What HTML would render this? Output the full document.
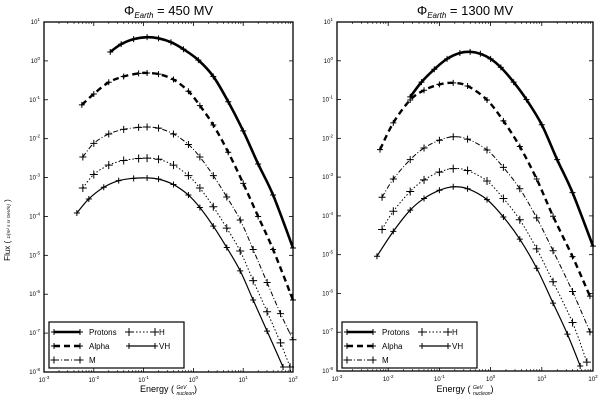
<!DOCTYPE html>
<html><head><meta charset="utf-8">
<style>
body{margin:0;background:#fff;width:600px;height:401px;overflow:hidden;font-family:"Liberation Sans",sans-serif}
svg{display:block}
text{font-family:"Liberation Sans",sans-serif;fill:#000}
</style></head>
<body>
<svg id="chart" width="600" height="401" viewBox="0 0 600 401"></svg>
<script>
// Data in log10 units (energy GeV/nucleon, flux)
const seriesNames = ["Protons","Alpha","M","H","VH"];
const leftProtonsE = [-1.67,-1.45,-1.2,-0.93,-0.7,-0.45,-0.2,0.1,0.4,0.7,1.0,1.3,1.6,2.0];
const leftProtonsF = [0.23,0.43,0.56,0.61,0.58,0.48,0.30,0.02,-0.40,-1.05,-1.80,-2.65,-3.45,-4.81];
const leftAlphaE = [-2.24,-2.0,-1.7,-1.4,-1.1,-0.93,-0.7,-0.4,-0.1,0.13,0.4,0.7,1.0,1.3,1.6,2.0];
const leftAlphaF = [-1.13,-0.85,-0.55,-0.40,-0.32,-0.31,-0.34,-0.48,-0.78,-1.15,-1.65,-2.35,-3.15,-4.0,-4.85,-6.15];
const leftME = [-2.22,-2.0,-1.7,-1.4,-1.1,-0.93,-0.7,-0.4,-0.1,0.13,0.4,0.67,0.94,1.2,1.48,1.75,2.0];
const leftMF = [-2.47,-2.12,-1.88,-1.76,-1.71,-1.70,-1.73,-1.88,-2.15,-2.47,-2.95,-3.50,-4.09,-4.85,-5.70,-6.50,-7.17];
const leftHE = [-2.22,-2.0,-1.7,-1.4,-1.1,-0.93,-0.7,-0.4,-0.1,0.13,0.4,0.67,0.94,1.2,1.48,1.75,1.94];
const leftHF = [-3.27,-2.92,-2.68,-2.56,-2.51,-2.50,-2.53,-2.68,-2.95,-3.27,-3.75,-4.30,-4.89,-5.65,-6.45,-7.25,-7.87];
const leftVHE = [-2.34,-2.1,-1.8,-1.5,-1.2,-0.93,-0.7,-0.4,-0.1,0.13,0.4,0.67,0.94,1.2,1.48,1.80];
const leftVHF = [-3.91,-3.55,-3.25,-3.08,-3.02,-3.01,-3.04,-3.18,-3.45,-3.77,-4.25,-4.80,-5.40,-6.15,-6.95,-7.87];
const rightProtonsE = [-1.57,-1.35,-1.1,-0.85,-0.6,-0.4,-0.2,0,0.2,0.45,0.7,1.0,1.3,1.6,2.0];
const rightProtonsF = [-0.93,-0.55,-0.22,0.05,0.20,0.23,0.18,0.05,-0.17,-0.55,-1.00,-1.65,-2.55,-3.40,-4.78];
const rightAlphaE = [-2.16,-1.9,-1.57,-1.3,-1.0,-0.73,-0.45,-0.07,0.25,0.57,0.9,1.22,1.6,1.94];
const rightAlphaF = [-2.29,-1.60,-1.01,-0.76,-0.61,-0.57,-0.65,-1.01,-1.55,-2.21,-3.05,-4.01,-5.05,-6.07];
const rightME = [-2.12,-1.9,-1.57,-1.3,-1.0,-0.73,-0.45,-0.07,0.25,0.57,0.9,1.22,1.6,1.94];
const rightMF = [-3.52,-3.05,-2.55,-2.25,-2.05,-1.96,-2.02,-2.30,-2.75,-3.30,-4.05,-4.90,-5.95,-6.99];
const rightHE = [-2.12,-1.9,-1.57,-1.3,-1.0,-0.73,-0.45,-0.07,0.25,0.57,0.9,1.22,1.6,1.88];
const rightHF = [-4.35,-3.88,-3.37,-3.07,-2.87,-2.78,-2.83,-3.10,-3.55,-4.10,-4.85,-5.70,-6.75,-7.77];
const rightVHE = [-2.22,-1.9,-1.57,-1.3,-1.0,-0.73,-0.45,-0.07,0.25,0.57,0.9,1.22,1.5,1.75];
const rightVHF = [-5.04,-4.40,-3.85,-3.55,-3.34,-3.25,-3.30,-3.58,-4.03,-4.60,-5.35,-6.25,-7.05,-7.87];
const xTickExps = [-3,-2,-1,0,1,2];
const yTickExps = [1,0,-1,-2,-3,-4,-5,-6,-7,-8];
const titles = ["450 MV","1300 MV"];

const NS="http://www.w3.org/2000/svg";
const svg=document.getElementById('chart');
function mk(tag,attrs,parent){const e=document.createElementNS(NS,tag);for(const k in attrs)e.setAttribute(k,attrs[k]);(parent||svg).appendChild(e);return e;}

const panels=[
 {x0:44,x1:293,y0:22,y1:372,title:titles[0],series:[[leftProtonsE,leftProtonsF],[leftAlphaE,leftAlphaF],[leftME,leftMF],[leftHE,leftHF],[leftVHE,leftVHF]],name:'left'},
 {x0:337,x1:593,y0:22,y1:371,title:titles[1],series:[[rightProtonsE,rightProtonsF],[rightAlphaE,rightAlphaF],[rightME,rightMF],[rightHE,rightHF],[rightVHE,rightVHF]],name:'right'}
];
const styles=[
 {w:2.6,dash:"",ms:3},
 {w:2.4,dash:"6,4",ms:3},
 {w:1,dash:"5,2,1,2",ms:3.5},
 {w:1,dash:"1.5,2",ms:4},
 {w:1.2,dash:"",ms:3}
];
function path(pts){
 let d=`M${pts[0][0]},${pts[0][1]}`;
 for(let i=0;i<pts.length-1;i++){
  const p0=pts[Math.max(0,i-1)],p1=pts[i],p2=pts[i+1],p3=pts[Math.min(pts.length-1,i+2)];
  const c1=[p1[0]+(p2[0]-p0[0])/6,p1[1]+(p2[1]-p0[1])/6];
  const c2=[p2[0]-(p3[0]-p1[0])/6,p2[1]-(p3[1]-p1[1])/6];
  d+=` C${c1[0]},${c1[1]} ${c2[0]},${c2[1]} ${p2[0]},${p2[1]}`;
 }
 return d;
}
panels.forEach(p=>{
 const xs=v=>p.x0+(v-xTickExps[0])/(xTickExps[xTickExps.length-1]-xTickExps[0])*(p.x1-p.x0);
 const ys=v=>p.y0+(yTickExps[0]-v)/(yTickExps[0]-yTickExps[yTickExps.length-1])*(p.y1-p.y0);
 const g=mk('g',{});
 
 
 const t=mk('text',{x:(p.x0+p.x1)/2,y:15,'text-anchor':'middle','font-size':'13','font-family':'Liberation Serif'},g);
 
 
 t.innerHTML='Φ<tspan font-size="8" dy="3" font-style="italic">Earth</tspan><tspan dy="-3"> = '+p.title.split(' ')[0]+' </tspan><tspan font-family="Liberation Sans">MV</tspan>';
 xTickExps.forEach(e=>{
  const x=xs(e);
  mk('line',{x1:x,x2:x,y1:p.y1,y2:p.y1-4,stroke:'#000','stroke-width':0.8},g);
  mk('line',{x1:x,x2:x,y1:p.y0,y2:p.y0+4,stroke:'#000','stroke-width':0.8},g);
  for(let k=2;k<10&&e<xTickExps[xTickExps.length-1];k++){const xm=xs(e+Math.log10(k));
   mk('line',{x1:xm,x2:xm,y1:p.y1,y2:p.y1-2,stroke:'#000','stroke-width':0.6},g);
   mk('line',{x1:xm,x2:xm,y1:p.y0,y2:p.y0+2,stroke:'#000','stroke-width':0.6},g);}
  const tl=mk('text',{x:x,y:p.y1+10,'text-anchor':'middle','font-size':'6',fill:'#333'},g);
  
  
  tl.innerHTML='10<tspan dy="-3" font-size="4.5">'+e+'</tspan>';
 });
 yTickExps.forEach(e=>{
  const y=ys(e);
  mk('line',{x1:p.x0,x2:p.x0+4,y1:y,y2:y,stroke:'#000','stroke-width':0.8},g);
  mk('line',{x1:p.x1,x2:p.x1-4,y1:y,y2:y,stroke:'#000','stroke-width':0.8},g);
  const tl=mk('text',{x:p.x0-4,y:y+2,'text-anchor':'end','font-size':'6',fill:'#333'},g);
  
  
  tl.innerHTML='10<tspan dy="-3" font-size="4.5">'+e+'</tspan>';
 });
 const fr=mk('rect',{x:p.x0,y:p.y0,width:p.x1-p.x0,height:p.y1-p.y0,fill:'none',stroke:'#000','stroke-width':1.3},g);
 
 
 const xl=mk('text',{x:(p.x0+p.x1)/2,y:392,'text-anchor':'middle','font-size':'9'},g);
 
 
 xl.innerHTML='Energy ( <tspan font-size="5" font-style="italic" dy="-3">GeV</tspan><tspan font-size="5" font-style="italic" dx="-10" dy="6">nucleon</tspan><tspan dy="-3">)</tspan>';
 p.series.forEach((s,i)=>{
  const pts=s[0].map((v,j)=>[xs(v),ys(s[1][j])]);
  const st=styles[i];
  const ln=mk('path',{d:path(pts),fill:'none',stroke:'#000','stroke-width':st.w,'stroke-dasharray':st.dash},g);
  
  
  pts.forEach(q=>{
   const m=mk('path',{d:`M${q[0]-st.ms},${q[1]}h${2*st.ms}M${q[0]},${q[1]-st.ms}v${2*st.ms}`,stroke:'#000','stroke-width':1},g);
   
   
  });
 });
 const lx=p.x0+5,ly=322;
 const lg=mk('g',{},g);
 
 
 mk('rect',{x:lx,y:ly,width:135,height:46,fill:'#fff',stroke:'#000','stroke-width':1.2},lg);
 const pos=[[lx+5,ly+10],[lx+5,ly+24],[lx+5,ly+38],[lx+80,ly+10],[lx+80,ly+24]];
 seriesNames.forEach((n,i)=>{
  const [x,y]=pos[i];const st=styles[i];
  const e=mk('g',{},lg);
  
  
  mk('line',{x1:x,x2:x+26,y1:y,y2:y,stroke:'#000','stroke-width':st.w,'stroke-dasharray':st.dash},e);
  [x,x+26].forEach(mx=>mk('path',{d:`M${mx-st.ms},${y}h${2*st.ms}M${mx},${y-st.ms}v${2*st.ms}`,stroke:'#000','stroke-width':1},e));
  const tt=mk('text',{x:x+(i<3?35:30),y:y+3,'font-size':'8'},e);
  tt.textContent=n;
 });
});
const yl=mk('text',{x:0,y:0,'text-anchor':'middle','font-size':'8',transform:'translate(10,230) rotate(-90)'});


yl.innerHTML='Flux ( <tspan font-size="4.5" font-style="italic">1/(m² s sr GeV/n)</tspan> )';
</script>
</body></html>
